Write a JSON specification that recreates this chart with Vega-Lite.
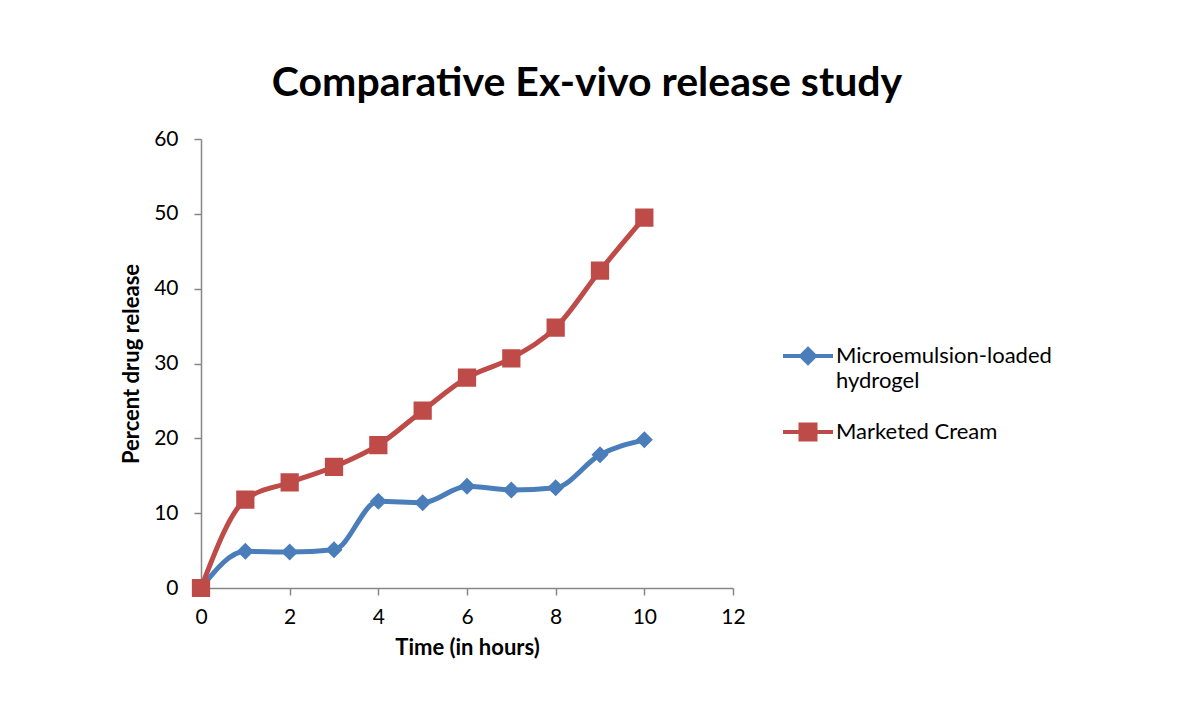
{
  "$schema": "https://vega.github.io/schema/vega-lite/v6.json",
  "autosize": "none",
  "width": 532,
  "height": 449,
  "padding": {"left": 201, "top": 139, "right": 451, "bottom": 132},
  "background": "white",
  "config": {"view": {"stroke": null}, "font": "Lato"},
  "title": {"text": "Comparative Ex-vivo release study", "fontSize": 41, "fontWeight": "bold", "font": "Lato", "color": "#000000", "anchor": "middle", "frame": "group", "dx": 120, "offset": 23},
  "data": {"values": [
    {"time": 0, "release": 0, "series": "Microemulsion-loaded hydrogel"},
    {"time": 1, "release": 4.9, "series": "Microemulsion-loaded hydrogel"},
    {"time": 2, "release": 4.8, "series": "Microemulsion-loaded hydrogel"},
    {"time": 3, "release": 5.1, "series": "Microemulsion-loaded hydrogel"},
    {"time": 4, "release": 11.6, "series": "Microemulsion-loaded hydrogel"},
    {"time": 5, "release": 11.4, "series": "Microemulsion-loaded hydrogel"},
    {"time": 6, "release": 13.6, "series": "Microemulsion-loaded hydrogel"},
    {"time": 7, "release": 13.1, "series": "Microemulsion-loaded hydrogel"},
    {"time": 8, "release": 13.4, "series": "Microemulsion-loaded hydrogel"},
    {"time": 9, "release": 17.8, "series": "Microemulsion-loaded hydrogel"},
    {"time": 10, "release": 19.8, "series": "Microemulsion-loaded hydrogel"},
    {"time": 0, "release": 0, "series": "Marketed Cream"},
    {"time": 1, "release": 11.8, "series": "Marketed Cream"},
    {"time": 2, "release": 14.1, "series": "Marketed Cream"},
    {"time": 3, "release": 16.2, "series": "Marketed Cream"},
    {"time": 4, "release": 19.1, "series": "Marketed Cream"},
    {"time": 5, "release": 23.7, "series": "Marketed Cream"},
    {"time": 6, "release": 28.1, "series": "Marketed Cream"},
    {"time": 7, "release": 30.7, "series": "Marketed Cream"},
    {"time": 8, "release": 34.8, "series": "Marketed Cream"},
    {"time": 9, "release": 42.4, "series": "Marketed Cream"},
    {"time": 10, "release": 49.5, "series": "Marketed Cream"}
  ]},
  "encoding": {
    "x": {"field": "time", "type": "quantitative", "scale": {"domain": [0, 12], "nice": false},
      "axis": {"title": "Time (in hours)", "values": [0, 2, 4, 6, 8, 10, 12], "grid": false,
        "domainColor": "#868686", "tickColor": "#868686", "tickSize": 7, "domainWidth": 1.5, "tickWidth": 1.5,
        "labelFontSize": 21, "labelColor": "#000000", "labelPadding": 11,
        "titleFontSize": 22, "titleFontWeight": "bold", "titleColor": "#000000", "titlePadding": 10, "labelFlush": false}},
    "y": {"field": "release", "type": "quantitative", "scale": {"domain": [0, 60], "nice": false},
      "axis": {"title": "Percent drug release", "values": [0, 10, 20, 30, 40, 50, 60], "grid": false,
        "domainColor": "#868686", "tickColor": "#868686", "tickSize": 7, "domainWidth": 1.5, "tickWidth": 1.5,
        "labelFontSize": 21, "labelColor": "#000000", "labelPadding": 16,
        "titleFontSize": 22, "titleFontWeight": "bold", "titleColor": "#000000", "titlePadding": 10}},
    "color": {"field": "series", "type": "nominal",
      "scale": {"domain": ["Microemulsion-loaded hydrogel", "Marketed Cream"], "range": ["#4a7ebb", "#be4b48"]},
      "legend": {"title": null, "orient": "none", "legendX": 580, "legendY": 190,
        "labelFontSize": 22, "labelColor": "#000000", "labelOffset": 1, "labelLimit": 400,
        "symbolSize": 2500, "symbolStrokeWidth": 4, "rowPadding": 13,
        "labelExpr": "datum.label == 'Microemulsion-loaded hydrogel' ? ['Microemulsion-loaded', 'hydrogel'] : datum.label",
        "encode": {"labels": {"update": {"lineHeight": {"value": 25}}}}}
    }
  },
  "layer": [
    {"mark": {"type": "line", "interpolate": "monotone", "strokeWidth": 5}},
    {"mark": {"type": "point", "filled": true, "opacity": 1, "size": 3700},
      "encoding": {"shape": {"field": "series", "type": "nominal",
        "scale": {"domain": ["Microemulsion-loaded hydrogel", "Marketed Cream"], "range": ["M-1,0H1M0,-0.28L0.28,0L0,0.28L-0.28,0Z", "M-1,0H1M-0.3,-0.3H0.3V0.3H-0.3Z"]}, "legend": null}}}
  ]
}
